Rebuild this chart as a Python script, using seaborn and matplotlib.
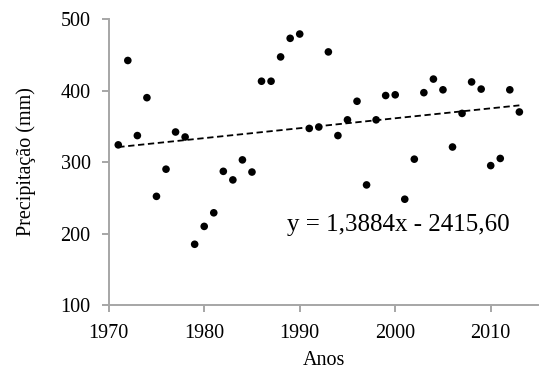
import numpy as np
import pandas as pd
import matplotlib
matplotlib.use("Agg")
import matplotlib.pyplot as plt
import seaborn as sns

# annual precipitation
anos = list(range(1971, 2014))
precipitacao = [324, 442, 337, 390, 252, 290, 342, 335, 185, 210,
                229, 287, 275, 303, 286, 413, 413, 447, 473, 479,
                347, 349, 454, 337, 359, 385, 268, 359, 393, 394,
                248, 304, 397, 416, 401, 321, 368, 412, 402, 295,
                305, 401, 370]

# linear trend shown on the chart
inclinacao = 1.3884
intercepto = -2415.60
rotulo_eq = "y = 1,3884x - 2415,60"

df = pd.DataFrame({"ano": anos, "prec": precipitacao})
df["tendencia"] = inclinacao * df["ano"] + intercepto

sns.set_style("ticks")
plt.rcParams["font.family"] = ["Liberation Serif", "DejaVu Serif"]
plt.rcParams["text.color"] = "black"
plt.rcParams["axes.labelcolor"] = "black"

fig, ax = plt.subplots(figsize=(5.39, 3.78), dpi=100)
fig.subplots_adjust(left=0.2017, right=0.999, bottom=0.193, top=0.9497)

sns.scatterplot(data=df, x="ano", y="prec", color="black", s=30,
                edgecolor="none", ax=ax, zorder=3)
sns.lineplot(data=df, x="ano", y="tendencia", color="black",
             linestyle=(0, (3.5, 2)), linewidth=1.3, ax=ax)

ax.text(2000.3, 212, rotulo_eq, fontsize=18, ha="center", va="center")

ax.set_xlim(1970, 2015)
ax.set_ylim(100, 500)
ax.set_xticks([1970, 1980, 1990, 2000, 2010])
ax.set_yticks([100, 200, 300, 400, 500])
ax.set_xlabel("Anos", fontsize=14.5, labelpad=6)
ax.set_ylabel("Precipitação (mm)", fontsize=14.5, labelpad=18)

for lado in ["top", "right"]:
    ax.spines[lado].set_visible(False)
for lado in ["left", "bottom"]:
    ax.spines[lado].set_color("#a6a6a6")
    ax.spines[lado].set_linewidth(1.4)
ax.tick_params(axis="both", colors="#a6a6a6", labelcolor="black",
               labelsize=14.5, length=5, width=1.4, direction="out")
ax.tick_params(axis="y", pad=8)
ax.tick_params(axis="x", pad=8.5)

fig.savefig("out.png", dpi=100)
